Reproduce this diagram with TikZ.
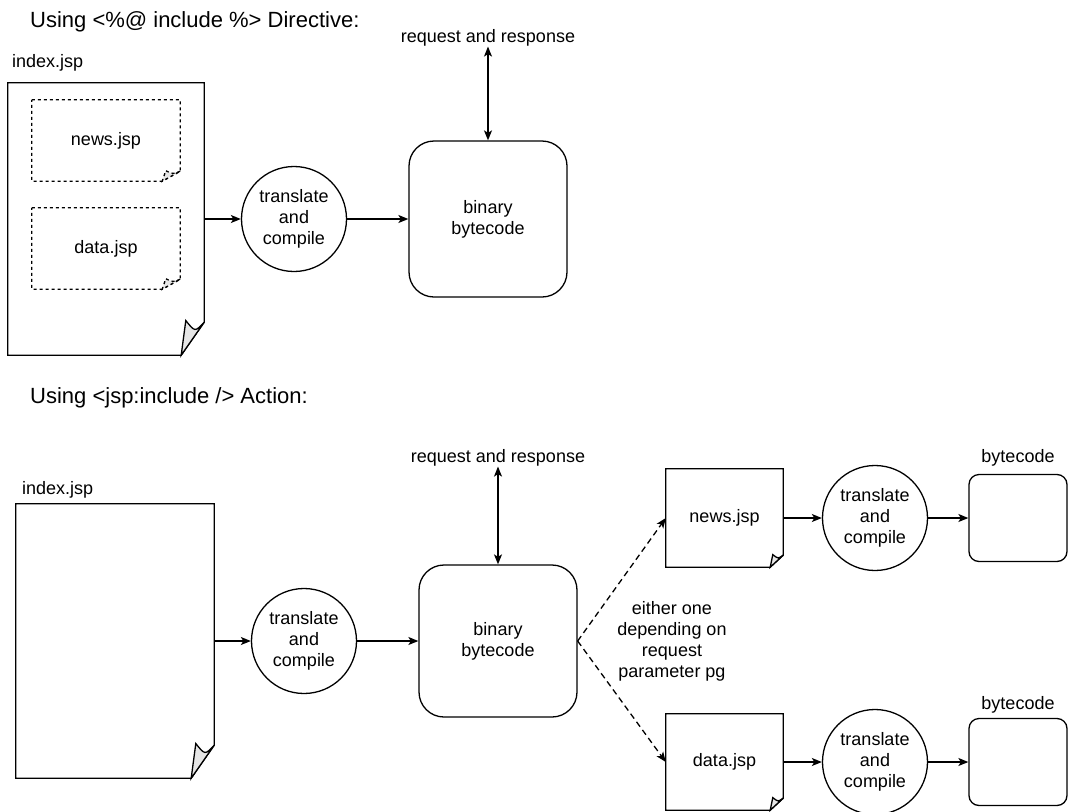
\documentclass[tikz,border=0pt]{standalone}
\usepackage{fontspec}
\setmainfont{Liberation Sans}
\usetikzlibrary{arrows.meta,positioning,calc}
\definecolor{curl}{HTML}{E6E6E6}

\tikzset{
  txt/.style={font=\fontsize{18}{21}\selectfont,align=center,inner sep=0pt},
  heading/.style={font=\fontsize{22}{26}\selectfont,anchor=west,inner sep=0pt},
  pagebox/.style={txt},
  circbox/.style={circle,draw,line width=1.3pt,minimum size=105pt,txt},
  codebox/.style={draw,line width=1.3pt,rounded corners=#1,txt},
  link/.style={line width=1.3pt,-{Stealth[length=10pt,width=8pt,inset=2.5pt]}},
  both/.style={line width=1.3pt,{Stealth[length=10pt,width=8pt,inset=2.5pt]}-{Stealth[length=10pt,width=8pt,inset=2.5pt]}},
  maybe/.style={link,dash pattern=on 6pt off 4pt}
}

% page outline with curled corner: [extra style]{node}{fold x}{fold y}
\newcommand{\curlpage}[4][]{%
  \draw[line width=1.3pt,#1] (#2.north west) -- (#2.north east)
    -- ([yshift=#4pt]#2.south east) -- ([xshift=-#3pt]#2.south east)
    -- (#2.south west) -- cycle;
  \filldraw[line width=1.3pt,fill=curl,#1] ([yshift=#4pt]#2.south east)
    .. controls ([xshift=-0.4*#3pt,yshift=0.7*#4pt]#2.south east)
    .. ([xshift=-0.8*#3pt,yshift=1.05*#4pt]#2.south east)
    -- ([xshift=-#3pt]#2.south east) -- cycle;
}

\begin{document}
\begin{tikzpicture}[x=1pt,y=-1pt]
  \useasboundingbox (0,0) rectangle (1072,812);

  % Directive
  \node[heading] (title1) at (30,22) {Using <\%@ include \%> Directive:};
  \node[txt,anchor=west] (idxlbl1) at (12,63) {index.jsp};
  \node[pagebox,minimum width=196pt,minimum height=272pt] (idx1) at (106,219) {};
  \curlpage{idx1}{23}{33}
  \node[pagebox,minimum width=148pt,minimum height=81pt] (news1) at (106,140.5) {news.jsp};
  \curlpage[dashed]{news1}{18}{10}
  \node[pagebox,minimum width=148pt,minimum height=81pt] (data1) at (106,248.5) {data.jsp};
  \curlpage[dashed]{data1}{18}{10}
  \node[circbox] (tc1) at (294,219) {translate\\and\\compile};
  \node[codebox=25pt,minimum width=158pt,minimum height=156pt] (bin1) at (488,219) {binary\\bytecode};
  \node[txt] (req1) at (488,38) {request and response};
  \draw[link] (idx1) -- (tc1);
  \draw[link] (tc1) -- (bin1);
  \draw[both] (req1) -- (bin1);

  % Action
  \node[heading] (title2) at (30,398) {Using <jsp:include /> Action:};
  \node[txt,anchor=west] (idxlbl2) at (22,490) {index.jsp};
  \node[pagebox,minimum width=198pt,minimum height=274pt] (idx2) at (115,641) {};
  \curlpage{idx2}{23}{33}
  \node[circbox] (tc2) at (304,641) {translate\\and\\compile};
  \node[codebox=25pt,minimum width=158pt,minimum height=152pt] (bin2) at (498,641) {binary\\bytecode};
  \node[txt] (req2) at (498,458) {request and response};
  \draw[link] (idx2) -- (tc2);
  \draw[link] (tc2) -- (bin2);
  \draw[both] (req2) -- (bin2);

  % included pages
  \node[pagebox,minimum width=117pt,minimum height=98pt] (news2) at (724.5,518) {news.jsp};
  \curlpage{news2}{13}{12}
  \node[pagebox,minimum width=117pt,minimum height=96pt] (data2) at (724.5,762) {data.jsp};
  \curlpage{data2}{13}{12}
  \node[txt] (either) at (672,641) {either one\\depending on\\request\\parameter pg};
  \draw[maybe] (bin2.east) -- (news2.west);
  \draw[maybe] (bin2.east) -- (data2.west);

  \node[circbox] (tc3) at (875,518) {translate\\and\\compile};
  \node[circbox] (tc4) at (875,762) {translate\\and\\compile};
  \node[codebox=10pt,minimum width=98pt,minimum height=87pt] (byte1) at (1018,518) {};
  \node[codebox=10pt,minimum width=98pt,minimum height=87pt] (byte2) at (1018,762) {};
  \node[txt] (bytelbl1) at (1018,458) {bytecode};
  \node[txt] (bytelbl2) at (1018,705) {bytecode};
  \draw[link] (news2) -- (tc3);
  \draw[link] (tc3) -- (byte1);
  \draw[link] (data2) -- (tc4);
  \draw[link] (tc4) -- (byte2);
\end{tikzpicture}
\end{document}
